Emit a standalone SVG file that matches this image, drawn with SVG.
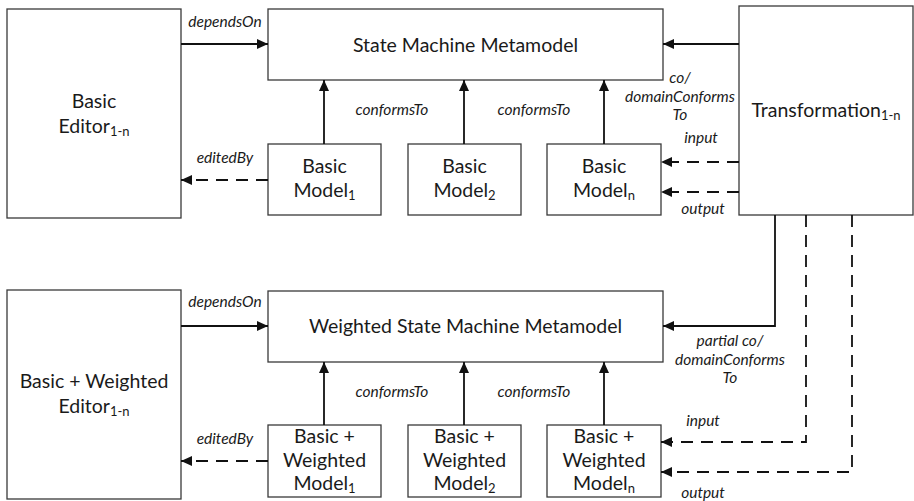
<svg xmlns="http://www.w3.org/2000/svg" width="914" height="501" viewBox="0 0 914 501">
  <style>
    .box { fill: #fff; stroke: #3a3a3a; stroke-width: 1.3; }
    .node { font-family: Lato, "Open Sans", sans-serif; font-size: 19.5px; fill: #1a1a1a; text-anchor: middle; }
    .lbl { font-family: Lato, "Open Sans", sans-serif; font-size: 15.5px; font-style: italic; fill: #1a1a1a; text-anchor: middle; }
    .sub { font-size: 13px; }
    .solid { fill: none; stroke: #111; stroke-width: 1.8; }
    .dash { fill: none; stroke: #111; stroke-width: 1.8; stroke-dasharray: 12 8; }
  </style>
  <defs>
    <marker id="arrow" markerWidth="12" markerHeight="10" refX="11" refY="5" orient="auto" markerUnits="userSpaceOnUse">
      <path d="M0,0 L11,5 L0,10 Z" fill="#111"/>
    </marker>
  </defs>

  <!-- Top row -->
  <g id="basic-editor">
    <rect class="box" x="7" y="9" width="174" height="209"/>
    <text class="node" x="94" y="108">Basic</text>
    <text class="node" x="94" y="133">Editor<tspan class="sub" dy="3">1-n</tspan></text>
  </g>
  <g id="sm-metamodel">
    <rect class="box" x="268" y="9" width="395" height="71"/>
    <text class="node" x="465.5" y="52">State Machine Metamodel</text>
  </g>
  <g id="basic-model-1">
    <rect class="box" x="268" y="144" width="113" height="71"/>
    <text class="node" x="324.5" y="173">Basic</text>
    <text class="node" x="324.5" y="197">Model<tspan class="sub" dy="3">1</tspan></text>
  </g>
  <g id="basic-model-2">
    <rect class="box" x="408" y="144" width="113" height="71"/>
    <text class="node" x="464.5" y="173">Basic</text>
    <text class="node" x="464.5" y="197">Model<tspan class="sub" dy="3">2</tspan></text>
  </g>
  <g id="basic-model-n">
    <rect class="box" x="547" y="144" width="114" height="71"/>
    <text class="node" x="604" y="173">Basic</text>
    <text class="node" x="604" y="197">Model<tspan class="sub" dy="3">n</tspan></text>
  </g>
  <g id="transformation">
    <rect class="box" x="739" y="6" width="174" height="209"/>
    <text class="node" x="826" y="117">Transformation<tspan class="sub" dy="3">1-n</tspan></text>
  </g>

  <!-- Bottom row -->
  <g id="weighted-editor">
    <rect class="box" x="7" y="290" width="174" height="209"/>
    <text class="node" x="94" y="388">Basic + Weighted</text>
    <text class="node" x="94" y="413">Editor<tspan class="sub" dy="3">1-n</tspan></text>
  </g>
  <g id="wsm-metamodel">
    <rect class="box" x="268" y="291" width="395" height="71"/>
    <text class="node" x="465.5" y="333">Weighted State Machine Metamodel</text>
  </g>
  <g id="weighted-model-1">
    <rect class="box" x="268" y="425" width="113" height="72"/>
    <text class="node" x="324.5" y="443">Basic +</text>
    <text class="node" x="324.5" y="467">Weighted</text>
    <text class="node" x="324.5" y="490">Model<tspan class="sub" dy="3">1</tspan></text>
  </g>
  <g id="weighted-model-2">
    <rect class="box" x="408" y="425" width="113" height="72"/>
    <text class="node" x="464.5" y="443">Basic +</text>
    <text class="node" x="464.5" y="467">Weighted</text>
    <text class="node" x="464.5" y="490">Model<tspan class="sub" dy="3">2</tspan></text>
  </g>
  <g id="weighted-model-n">
    <rect class="box" x="547" y="425" width="114" height="72"/>
    <text class="node" x="604" y="443">Basic +</text>
    <text class="node" x="604" y="467">Weighted</text>
    <text class="node" x="604" y="490">Model<tspan class="sub" dy="3">n</tspan></text>
  </g>

  <!-- Connectors -->
  <g id="connectors">
    <!-- top row -->
    <line class="solid" x1="181" y1="44" x2="268" y2="44" marker-end="url(#arrow)"/>
    <line class="solid" x1="324" y1="144" x2="324" y2="80" marker-end="url(#arrow)"/>
    <line class="solid" x1="464" y1="144" x2="464" y2="80" marker-end="url(#arrow)"/>
    <line class="solid" x1="604" y1="144" x2="604" y2="80" marker-end="url(#arrow)"/>
    <line class="dash" x1="268" y1="180" x2="181" y2="180" marker-end="url(#arrow)"/>
    <line class="solid" x1="739" y1="44" x2="663" y2="44" marker-end="url(#arrow)"/>
    <line class="dash" x1="739" y1="162" x2="661" y2="162" marker-end="url(#arrow)"/>
    <line class="dash" x1="739" y1="192" x2="661" y2="192" marker-end="url(#arrow)"/>
    <!-- bottom row -->
    <line class="solid" x1="181" y1="326" x2="268" y2="326" marker-end="url(#arrow)"/>
    <line class="solid" x1="324" y1="425" x2="324" y2="362" marker-end="url(#arrow)"/>
    <line class="solid" x1="464" y1="425" x2="464" y2="362" marker-end="url(#arrow)"/>
    <line class="solid" x1="604" y1="425" x2="604" y2="362" marker-end="url(#arrow)"/>
    <line class="dash" x1="268" y1="461" x2="181" y2="461" marker-end="url(#arrow)"/>
    <polyline class="solid" points="775,215 775,326 663,326" marker-end="url(#arrow)"/>
    <polyline class="dash" points="806,215 806,442 661,442" marker-end="url(#arrow)"/>
    <polyline class="dash" points="852,215 852,472 661,472" marker-end="url(#arrow)"/>

    <!-- labels -->
    <text class="lbl" x="225" y="27">dependsOn</text>
    <text class="lbl" x="392" y="115">conformsTo</text>
    <text class="lbl" x="534" y="115">conformsTo</text>
    <text class="lbl" x="225" y="163">editedBy</text>
    <text class="lbl" x="680" y="83">co/</text>
    <text class="lbl" x="680" y="102">domainConforms</text>
    <text class="lbl" x="680" y="120">To</text>
    <text class="lbl" x="701" y="143">input</text>
    <text class="lbl" x="703" y="214">output</text>

    <text class="lbl" x="225" y="307">dependsOn</text>
    <text class="lbl" x="392" y="397">conformsTo</text>
    <text class="lbl" x="534" y="397">conformsTo</text>
    <text class="lbl" x="225" y="444">editedBy</text>
    <text class="lbl" x="730" y="346">partial co/</text>
    <text class="lbl" x="730" y="365">domainConforms</text>
    <text class="lbl" x="730" y="383">To</text>
    <text class="lbl" x="703" y="426">input</text>
    <text class="lbl" x="703" y="498">output</text>
  </g>
</svg>
